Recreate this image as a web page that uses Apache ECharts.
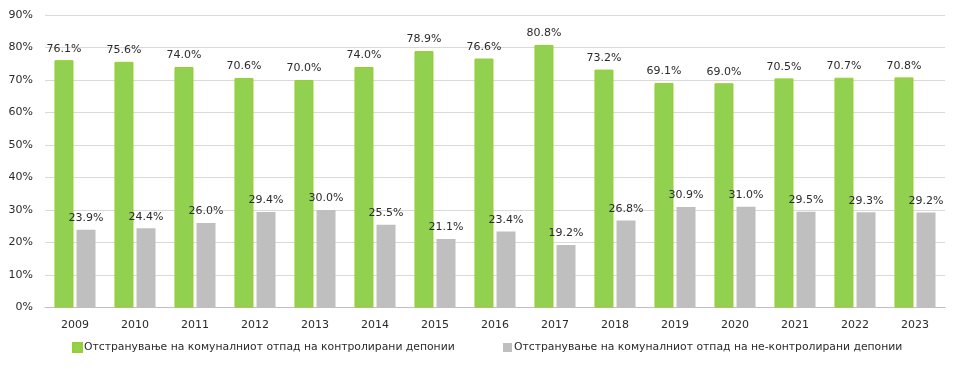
<!DOCTYPE html>
<html>
<head>
<meta charset="utf-8">
<script src="https://cdn.jsdelivr.net/npm/echarts@6/dist/echarts.min.js"></script>
<style>html,body{margin:0;padding:0;background:#fff}#c{width:960px;height:375px}</style>
</head>
<body>
<div id="c"></div>
<script>
var years = ['2009','2010','2011','2012','2013','2014','2015','2016','2017','2018','2019','2020','2021','2022','2023'];
var controlled = [76.1,75.6,74.0,70.6,70.0,74.0,78.9,76.6,80.8,73.2,69.1,69.0,70.5,70.7,70.8];
var uncontrolled = [23.9,24.4,26.0,29.4,30.0,25.5,21.1,23.4,19.2,26.8,30.9,31.0,29.5,29.3,29.2];
var name1 = 'Отстранување на комуналниот отпад на контролирани депонии';
var name2 = 'Отстранување на комуналниот отпад на не-контролирани депонии';
var FONT = 'DejaVu Sans';
var chart = echarts.init(document.getElementById('c'));
var lbl = {show:true, position:'top', distance:6, color:'#2b2b2b', fontFamily:FONT, fontSize:11,
  formatter:function(p){return p.value.toFixed(1)+'%';}};
chart.setOption({
  animation:false,
  textStyle:{fontFamily:FONT},
  grid:{left:45, right:15, top:15, bottom:67.5},
  legend:[
    {data:[name1], left:72, top:342, padding:0, icon:'rect', itemWidth:9, itemHeight:9, itemGap:4,
     textStyle:{fontFamily:FONT, fontSize:10.8, color:'#2b2b2b', padding:[0,0,0,-3]}},
    {data:[name2], left:503, top:342, padding:0, icon:'rect', itemWidth:9, itemHeight:9, itemGap:4,
     textStyle:{fontFamily:FONT, fontSize:10.8, color:'#2b2b2b', padding:[0,0,0,-3]}}
  ],
  xAxis:{type:'category', data:years,
    axisLine:{lineStyle:{color:'#bfbfbf'}}, axisTick:{show:false},
    axisLabel:{color:'#2b2b2b', fontFamily:FONT, fontSize:11, margin:12}},
  yAxis:{type:'value', min:0, max:90, interval:10,
    axisLabel:{formatter:'{value}%', color:'#2b2b2b', fontFamily:FONT, fontSize:11, margin:12},
    splitLine:{lineStyle:{color:'#d9d9d9'}}},
  series:[
    {name:name1, type:'bar', data:controlled, barWidth:19, barGap:'16%',
     itemStyle:{color:'#92d050', borderColor:'#9acd32', borderWidth:1}, label:lbl},
    {name:name2, type:'bar', data:uncontrolled, barWidth:19,
     itemStyle:{color:'#bfbfbf'}, label:lbl}
  ]
});
</script>
</body>
</html>
